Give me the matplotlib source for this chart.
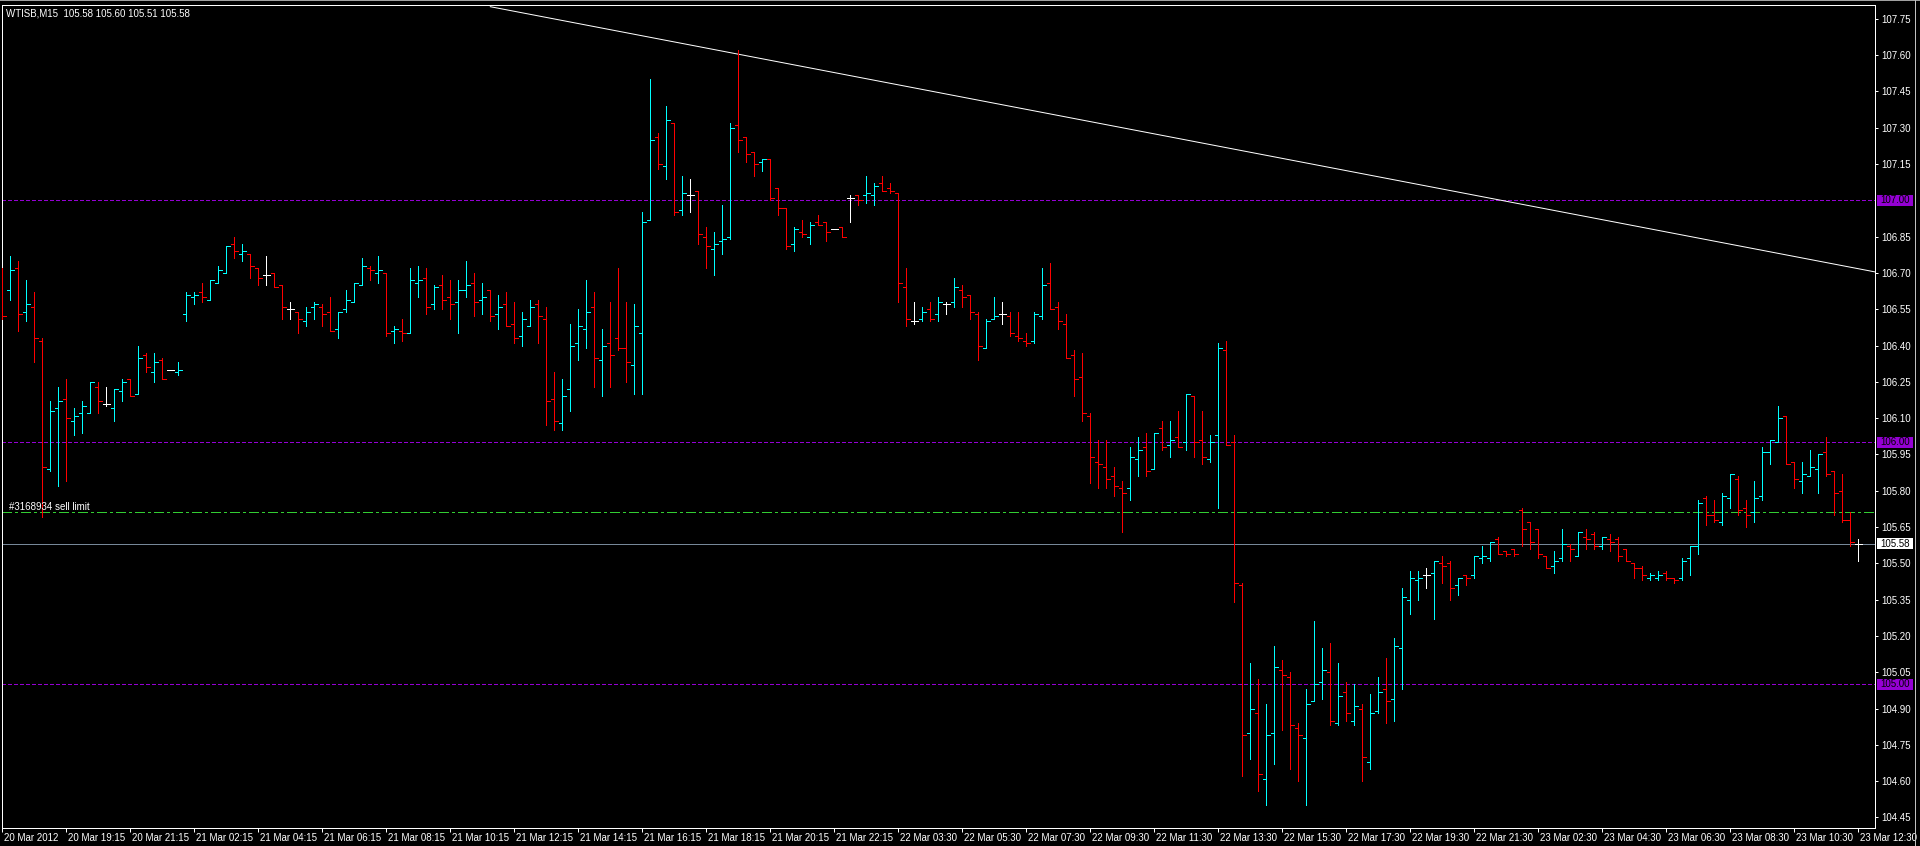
import matplotlib
matplotlib.use("Agg")
import matplotlib.pyplot as plt
from matplotlib.collections import LineCollection
from matplotlib.patches import Rectangle
from matplotlib.lines import Line2D
from matplotlib import transforms

plt.rcParams['font.family'] = ['Liberation Sans', 'DejaVu Sans']
plt.rcParams['lines.scale_dashes'] = False

symbol_title = "WTISB,M15  105.58 105.60 105.51 105.58"
order_label = "#3168934 sell limit"

opens = [
    106.64, 106.63, 106.72, 106.54, 106.56, 106.42, 105.89, 106.14, 106.18, 106.09,
    106.12, 106.12, 106.23, 106.16, 106.14, 106.21, 106.26, 106.20, 106.36, 106.29,
    106.34, 106.30, 106.29, 106.53, 106.60, 106.62, 106.59, 106.66, 106.70, 106.82,
    106.78, 106.78, 106.72, 106.69, 106.70, 106.65, 106.55, 106.54, 106.50, 106.56,
    106.56, 106.54, 106.47, 106.55, 106.58, 106.65, 106.72, 106.70, 106.70, 106.46,
    106.46, 106.45, 106.66, 106.68, 106.57, 106.65, 106.60, 106.58, 106.63, 106.66,
    106.59, 106.63, 106.53, 106.57, 106.49, 106.44, 106.48, 106.57, 106.51, 106.18,
    106.08, 106.22, 106.41, 106.47, 106.56, 106.34, 106.41, 106.43, 106.39, 106.32,
    106.45, 106.92, 107.26, 107.14, 107.32, 106.96, 107.02, 107.04, 106.85, 106.80,
    106.83, 106.85, 107.31, 107.26, 107.20, 107.16, 107.17, 107.05, 106.97, 106.82,
    106.87, 106.85, 106.91, 106.91, 106.88, 106.89, 107.01, 107.02, 107.02, 107.02,
    107.07, 107.05, 107.03, 106.64, 106.50, 106.51, 106.55, 106.53, 106.57, 106.58,
    106.63, 106.61, 106.53, 106.39, 106.51, 106.53, 106.52, 106.44, 106.42, 106.42,
    106.52, 106.66, 106.56, 106.49, 106.36, 106.27, 106.11, 105.92, 105.90, 105.86,
    105.81, 105.81, 105.93, 105.98, 105.89, 106.06, 105.99, 106.02, 106.00, 106.19,
    106.01, 105.93, 106.03, 106.38, 106.00, 105.41, 104.80, 104.88, 104.61, 104.80,
    105.06, 105.03, 104.82, 104.78, 104.93, 105.01, 105.05, 104.84, 104.97, 104.85,
    104.90, 104.68, 104.89, 104.98, 104.94, 105.15, 105.35, 105.43, 105.45, 105.46,
    105.50, 105.50, 105.41, 105.45, 105.45, 105.52, 105.52, 105.60, 105.55, 105.56,
    105.72, 105.67, 105.64, 105.53, 105.49, 105.52, 105.57, 105.53, 105.61, 105.62,
    105.57, 105.60, 105.60, 105.56, 105.50, 105.48, 105.44, 105.44, 105.46, 105.44,
    105.44, 105.52, 105.57, 105.77, 105.70, 105.67, 105.77, 105.85, 105.73, 105.71,
    105.78, 105.96, 106.00, 106.11, 105.92, 105.84, 105.86, 105.89, 105.96, 105.88,
    105.80, 105.68, 105.58,
]

highs = [
    106.72, 106.77, 106.75, 106.67, 106.62, 106.43, 106.17, 106.23, 106.26, 106.14,
    106.17, 106.25, 106.25, 106.23, 106.22, 106.26, 106.26, 106.40, 106.37, 106.37,
    106.35, 106.30, 106.33, 106.62, 106.62, 106.66, 106.67, 106.73, 106.81, 106.85,
    106.82, 106.78, 106.72, 106.77, 106.70, 106.65, 106.58, 106.54, 106.56, 106.58,
    106.57, 106.60, 106.54, 106.63, 106.66, 106.76, 106.73, 106.77, 106.70, 106.48,
    106.51, 106.72, 106.73, 106.72, 106.65, 106.69, 106.67, 106.67, 106.75, 106.70,
    106.66, 106.63, 106.61, 106.62, 106.58, 106.54, 106.59, 106.59, 106.56, 106.29,
    106.26, 106.49, 106.55, 106.67, 106.62, 106.47, 106.58, 106.72, 106.58, 106.57,
    106.95, 107.50, 107.28, 107.39, 107.32, 107.10, 107.09, 107.04, 106.89, 106.87,
    106.98, 107.32, 107.62, 107.26, 107.20, 107.17, 107.17, 107.05, 106.97, 106.89,
    106.92, 106.91, 106.94, 106.91, 106.88, 106.89, 107.02, 107.02, 107.10, 107.07,
    107.10, 107.07, 107.03, 106.72, 106.58, 106.56, 106.58, 106.60, 106.58, 106.68,
    106.65, 106.61, 106.54, 106.51, 106.60, 106.58, 106.54, 106.54, 106.45, 106.54,
    106.72, 106.74, 106.58, 106.53, 106.38, 106.37, 106.12, 106.01, 106.01, 105.90,
    105.84, 105.98, 106.02, 106.04, 106.04, 106.09, 106.09, 106.13, 106.20, 106.19,
    106.13, 106.03, 106.41, 106.42, 106.03, 105.42, 105.09, 105.02, 104.92, 105.16,
    105.10, 105.05, 104.84, 104.98, 105.26, 105.15, 105.17, 105.09, 105.01, 105.00,
    104.92, 104.96, 105.03, 105.11, 105.19, 105.40, 105.47, 105.47, 105.48, 105.51,
    105.53, 105.51, 105.44, 105.45, 105.53, 105.57, 105.59, 105.61, 105.55, 105.56,
    105.73, 105.67, 105.64, 105.53, 105.55, 105.64, 105.58, 105.63, 105.64, 105.63,
    105.61, 105.62, 105.61, 105.56, 105.50, 105.49, 105.46, 105.47, 105.47, 105.44,
    105.52, 105.57, 105.76, 105.78, 105.76, 105.79, 105.87, 105.86, 105.76, 105.84,
    105.98, 106.01, 106.15, 106.11, 105.92, 105.92, 105.97, 105.95, 106.02, 105.88,
    105.87, 105.71, 105.60,
]

lows = [
    106.51, 106.59, 106.46, 106.50, 106.33, 105.69, 105.88, 105.82, 105.84, 106.03,
    106.04, 106.12, 106.12, 106.15, 106.09, 106.17, 106.19, 106.20, 106.29, 106.25,
    106.26, 106.30, 106.28, 106.50, 106.57, 106.58, 106.59, 106.66, 106.70, 106.76,
    106.75, 106.68, 106.65, 106.65, 106.64, 106.51, 106.51, 106.45, 106.48, 106.51,
    106.48, 106.46, 106.43, 106.54, 106.58, 106.65, 106.67, 106.66, 106.44, 106.41,
    106.42, 106.45, 106.60, 106.53, 106.55, 106.55, 106.51, 106.45, 106.60, 106.52,
    106.53, 106.50, 106.47, 106.48, 106.41, 106.40, 106.48, 106.41, 106.07, 106.05,
    106.05, 106.13, 106.34, 106.39, 106.23, 106.19, 106.23, 106.38, 106.25, 106.20,
    106.20, 106.92, 107.13, 107.09, 106.94, 106.94, 106.95, 106.82, 106.72, 106.69,
    106.78, 106.84, 107.20, 107.16, 107.10, 107.12, 107.00, 106.94, 106.80, 106.79,
    106.85, 106.82, 106.90, 106.83, 106.88, 106.85, 106.91, 106.98, 106.99, 106.98,
    107.04, 107.03, 106.58, 106.48, 106.49, 106.50, 106.50, 106.50, 106.53, 106.56,
    106.56, 106.51, 106.34, 106.39, 106.51, 106.49, 106.44, 106.42, 106.40, 106.41,
    106.51, 106.55, 106.47, 106.35, 106.19, 106.09, 105.83, 105.81, 105.81, 105.78,
    105.63, 105.76, 105.86, 105.86, 105.89, 105.97, 105.94, 105.98, 105.97, 105.94,
    105.91, 105.92, 105.73, 105.99, 105.34, 104.62, 104.69, 104.56, 104.50, 104.67,
    104.81, 104.65, 104.60, 104.50, 104.93, 104.94, 104.83, 104.83, 104.85, 104.83,
    104.60, 104.65, 104.88, 104.84, 104.85, 104.98, 105.29, 105.35, 105.40, 105.27,
    105.42, 105.35, 105.37, 105.41, 105.44, 105.50, 105.51, 105.54, 105.53, 105.53,
    105.57, 105.56, 105.52, 105.48, 105.46, 105.51, 105.51, 105.53, 105.56, 105.56,
    105.56, 105.55, 105.51, 105.51, 105.44, 105.43, 105.43, 105.43, 105.43, 105.42,
    105.43, 105.45, 105.54, 105.66, 105.67, 105.66, 105.73, 105.70, 105.65, 105.67,
    105.76, 105.91, 106.00, 105.91, 105.81, 105.79, 105.86, 105.79, 105.86, 105.70,
    105.67, 105.57, 105.51,
]

closes = [
    106.52, 106.71, 106.53, 106.57, 106.43, 105.90, 106.13, 106.17, 106.10, 106.11,
    106.15, 106.25, 106.17, 106.16, 106.22, 106.25, 106.19, 106.35, 106.31, 106.33,
    106.26, 106.30, 106.30, 106.61, 106.61, 106.60, 106.67, 106.71, 106.81, 106.79,
    106.79, 106.73, 106.68, 106.69, 106.64, 106.56, 106.55, 106.51, 106.54, 106.57,
    106.53, 106.46, 106.54, 106.59, 106.66, 106.73, 106.71, 106.71, 106.45, 106.47,
    106.45, 106.67, 106.67, 106.56, 106.64, 106.59, 106.57, 106.63, 106.65, 106.58,
    106.60, 106.52, 106.56, 106.48, 106.43, 106.51, 106.56, 106.52, 106.17, 106.09,
    106.19, 106.40, 106.48, 106.54, 106.35, 106.40, 106.36, 106.39, 106.33, 106.48,
    106.91, 107.25, 107.15, 107.33, 106.95, 107.03, 107.02, 106.86, 106.81, 106.82,
    106.84, 107.30, 107.25, 107.19, 107.15, 107.17, 107.01, 106.97, 106.81, 106.88,
    106.86, 106.90, 106.90, 106.87, 106.88, 106.85, 107.01, 107.00, 107.03, 107.06,
    107.04, 107.04, 106.66, 106.51, 106.50, 106.54, 106.51, 106.58, 106.57, 106.64,
    106.60, 106.54, 106.40, 106.50, 106.52, 106.53, 106.45, 106.43, 106.41, 106.53,
    106.65, 106.55, 106.50, 106.35, 106.26, 106.12, 105.94, 105.91, 105.85, 105.82,
    105.79, 105.94, 105.97, 105.88, 106.04, 105.98, 106.01, 105.98, 106.20, 106.00,
    105.94, 106.00, 106.39, 105.99, 105.42, 104.79, 104.90, 104.63, 104.79, 105.07,
    105.04, 104.83, 104.79, 104.92, 105.00, 105.06, 104.85, 104.95, 104.88, 104.91,
    104.70, 104.88, 104.97, 104.93, 105.16, 105.36, 105.44, 105.44, 105.45, 105.51,
    105.49, 105.40, 105.44, 105.44, 105.53, 105.53, 105.59, 105.54, 105.54, 105.54,
    105.64, 105.59, 105.54, 105.48, 105.51, 105.58, 105.56, 105.63, 105.60, 105.57,
    105.61, 105.59, 105.53, 105.51, 105.48, 105.45, 105.45, 105.45, 105.44, 105.43,
    105.51, 105.57, 105.75, 105.70, 105.68, 105.78, 105.87, 105.72, 105.70, 105.77,
    105.96, 106.01, 106.10, 105.91, 105.85, 105.87, 105.90, 105.95, 105.87, 105.79,
    105.68, 105.59, 105.58,
]

time_labels = [
    "20 Mar 2012", "20 Mar 19:15", "20 Mar 21:15", "21 Mar 02:15", "21 Mar 04:15",
    "21 Mar 06:15", "21 Mar 08:15", "21 Mar 10:15", "21 Mar 12:15", "21 Mar 14:15",
    "21 Mar 16:15", "21 Mar 18:15", "21 Mar 20:15", "21 Mar 22:15", "22 Mar 03:30",
    "22 Mar 05:30", "22 Mar 07:30", "22 Mar 09:30", "22 Mar 11:30", "22 Mar 13:30",
    "22 Mar 15:30", "22 Mar 17:30", "22 Mar 19:30", "22 Mar 21:30", "23 Mar 02:30",
    "23 Mar 04:30", "23 Mar 06:30", "23 Mar 08:30", "23 Mar 10:30", "23 Mar 12:30",
]
label_step = 8

price_ticks = [107.75, 107.60, 107.45, 107.30, 107.15, 106.85, 106.70, 106.55,
               106.40, 106.25, 106.10, 105.95, 105.80, 105.65, 105.50, 105.35,
               105.20, 105.05, 104.90, 104.75, 104.60, 104.45]
level_prices = [107.00, 106.00, 105.00]
sell_limit_price = 105.71
bid_price = 105.58
trend_bars = [61.0, 234.1]
trend_prices = [107.80, 106.704]

# ---------------- layout (pixels) ----------------
W, H = 1920, 846
L, R, T, B = 2, 1875, 5, 828
PX = 8.0      # pixels per bar
PPU = 242.0   # pixels per 1.00 of price
LW = 0.72     # one pixel

fig = plt.figure(figsize=(W / 100, H / 100), dpi=100, facecolor='black')
ax = fig.add_axes([L / W, 1 - B / H, (R - L) / W, (B - T) / H])
ax.set_facecolor('black')
x0 = (L - 2.33) / PX
ax.set_xlim(x0, x0 + (R - L) / PX)
ax.set_ylim(107 - (B - 200.3) / PPU, 107 + (200.3 - T) / PPU)

UP, DOWN, DOJI = '#00FFFF', '#FF0000', '#FFFFFF'
segs, cols = [], []
tk = 3.3 / PX
for i, (o, h, l, c) in enumerate(zip(opens, highs, lows, closes)):
    col = UP if c > o else (DOWN if c < o else DOJI)
    if h == l:
        segs.append([(i - tk, o), (i + tk, o)])
        cols.append(col)
    else:
        segs += [[(i, l), (i, h)], [(i - tk, o), (i, o)], [(i, c), (i + tk, c)]]
        cols += [col] * 3
ax.add_collection(LineCollection(segs, colors=cols, linewidths=LW,
                                 antialiaseds=False, capstyle='butt', zorder=4))

for p in level_prices:
    ax.axhline(p, color='#9400D3', lw=LW, ls=(0, (2.2, 1.5)), antialiased=False, zorder=2)
ax.axhline(sell_limit_price, color='#32CD32', lw=LW, ls=(0, (6.5, 2.2, 1.5, 2.2)),
           antialiased=False, zorder=2)
ax.axhline(bid_price, color='#778899', lw=LW, antialiased=False, zorder=2)
ax.plot(trend_bars, trend_prices, color='white', lw=LW, zorder=3)

for s in ax.spines.values():
    s.set_color('white')
    s.set_linewidth(LW)

ax.yaxis.tick_right()
ax.set_yticks(price_ticks)
ax.set_yticklabels([f'{p:.2f}' for p in price_ticks])
ax.tick_params(axis='y', colors='white', labelsize=7, length=2.5, width=LW,
               pad=2, direction='out')

xt = [k * label_step for k in range(len(time_labels))]
ax.set_xticks(xt)
ax.set_xticklabels([])
ax.tick_params(axis='x', colors='white', length=3, width=LW, direction='out')
bx = transforms.blended_transform_factory(ax.transData, ax.transAxes)
for k, lab in zip(xt, time_labels):
    ax.text(k + 2 / PX, -10.0 / (B - T), lab, transform=bx, color='white',
            fontsize=7, ha='left', va='center', clip_on=False)

by = transforms.blended_transform_factory(ax.transAxes, ax.transData)
bx0 = (1877 - L) / (R - L)
bw = 36.0 / (R - L)
bh = 11.0 / PPU
for p, fc in [(level_prices[0], '#9400D3'), (level_prices[1], '#9400D3'),
              (level_prices[2], '#9400D3'), (bid_price, '#FFFFFF')]:
    ax.add_patch(Rectangle((bx0, p - bh / 2), bw, bh, transform=by, facecolor=fc,
                           edgecolor='none', clip_on=False, zorder=5))
    ax.text(bx0 + bw / 2, p, f'{p:.2f}', transform=by, color='black', fontsize=7,
            ha='center', va='center', clip_on=False, zorder=6)

off = transforms.offset_copy(ax.transData, fig=fig, x=0, y=2.5, units='dots')
ax.text(x0 + 7 / PX, sell_limit_price, order_label, transform=off, color='white',
        fontsize=7, ha='left', va='baseline', zorder=6)

fig.text(6 / W, 1 - 13.5 / H, symbol_title, color='white', fontsize=7,
         ha='left', va='center')

fig.add_artist(Line2D([0, 1], [1 - 0.5 / H] * 2, transform=fig.transFigure,
                      color='#a0a0a0', lw=LW))
fig.add_artist(Line2D([1915 / W] * 2, [0, 1], transform=fig.transFigure,
                      color='#c0c0c0', lw=LW))

fig.savefig('out.png', dpi=100, facecolor='black')
